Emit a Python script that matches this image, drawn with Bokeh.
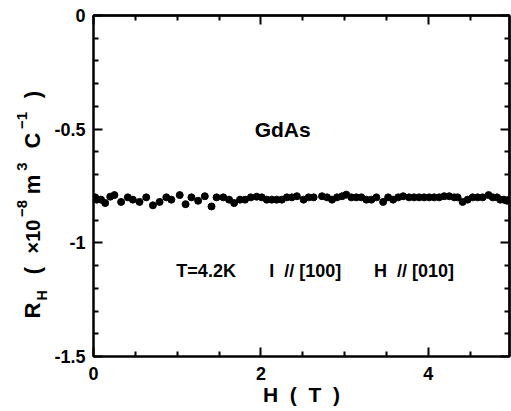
import numpy as np
from bokeh.plotting import figure
from bokeh.layouts import row
from bokeh.models import (LinearAxis, FixedTicker, CustomJSTickFormatter, Label, Range1d)
from bokeh.embed import file_html
from bokeh.resources import INLINE

# ---- data ----
field_T = [0.02, 0.04, 0.09, 0.14, 0.20, 0.25, 0.33, 0.41, 0.47, 0.55, 0.63, 0.71, 0.79,
           0.87, 0.93, 1.03, 1.10, 1.17, 1.25, 1.33, 1.41, 1.47, 1.55, 1.62, 1.68, 1.75,
           1.81, 1.88, 1.95, 2.01, 2.07, 2.13, 2.19, 2.25, 2.31, 2.37, 2.43, 2.51, 2.57,
           2.63, 2.73, 2.79, 2.85, 2.91, 2.97, 3.02, 3.08, 3.14, 3.20, 3.26, 3.32, 3.38,
           3.46, 3.52, 3.58, 3.64, 3.70, 3.77, 3.83, 3.89, 3.95, 4.01, 4.07, 4.13, 4.19,
           4.25, 4.31, 4.35, 4.41, 4.47, 4.53, 4.59, 4.65, 4.72, 4.77, 4.82, 4.86, 4.90,
           4.94, 4.97]
hall_RH = [-0.80, -0.81, -0.81, -0.825, -0.797, -0.79, -0.82, -0.80, -0.81, -0.82, -0.80,
           -0.835, -0.82, -0.80, -0.81, -0.79, -0.83, -0.80, -0.815, -0.795, -0.84, -0.80,
           -0.80, -0.81, -0.825, -0.81, -0.81, -0.80, -0.797, -0.80, -0.81, -0.81, -0.81,
           -0.81, -0.80, -0.80, -0.795, -0.81, -0.80, -0.80, -0.795, -0.80, -0.81, -0.80,
           -0.795, -0.788, -0.80, -0.80, -0.80, -0.81, -0.81, -0.80, -0.82, -0.80, -0.81,
           -0.80, -0.795, -0.80, -0.80, -0.80, -0.80, -0.80, -0.80, -0.80, -0.795, -0.795,
           -0.80, -0.80, -0.82, -0.81, -0.80, -0.80, -0.80, -0.79, -0.80, -0.80, -0.81,
           -0.81, -0.815, -0.81]
x_major = [0, 2, 4]
x_minor = [0.5, 1, 1.5, 2.5, 3, 3.5, 4.5]
y_major = [0, -0.5, -1, -1.5]
y_minor = [-0.1, -0.2, -0.3, -0.4, -0.6, -0.7, -0.8, -0.9, -1.1, -1.2, -1.3, -1.4]

FONT = "Liberation Sans"
NB = "\u00a0"
LEFT_W = 50
TOP, BOTTOM = 15, 55
H = 411

p = figure(width=511 - LEFT_W, height=H, output_backend="svg", toolbar_location=None,
           x_range=Range1d(0, 4.97), y_range=Range1d(-1.5, 0),
           x_axis_location=None, y_axis_location=None,
           min_border_left=93 - LEFT_W, min_border_right=2, min_border_top=TOP,
           min_border_bottom=BOTTOM)
p.grid.visible = False
p.outline_line_color = "black"
p.outline_line_width = 2
p.background_fill_color = "white"
p.border_fill_color = "white"

fmt = CustomJSTickFormatter(code="return String(tick);")

def style_ticks(ax, tin_major=9, tin_minor=5):
    ax.axis_line_color = "black"
    ax.axis_line_width = 2
    ax.major_tick_in = tin_major
    ax.major_tick_out = 0
    ax.minor_tick_in = tin_minor
    ax.minor_tick_out = 0
    ax.major_tick_line_width = 2
    ax.minor_tick_line_width = 2

def labelled_axis(side, ticks, minor):
    ax = LinearAxis(ticker=FixedTicker(ticks=ticks, minor_ticks=minor), formatter=fmt)
    style_ticks(ax)
    ax.major_label_text_font = FONT
    ax.major_label_text_font_style = "bold"
    ax.major_label_text_font_size = "18px"
    ax.major_label_text_color = "black"
    ax.major_label_standoff = 8
    p.add_layout(ax, side)
    return ax

def bare_axis(side, positions, length):
    # ticks only, drawn as "minor" ticks so no label texts exist
    ax = LinearAxis(ticker=FixedTicker(ticks=[], minor_ticks=positions))
    style_ticks(ax, tin_minor=length)
    p.add_layout(ax, side)
    return ax

xb = labelled_axis("below", x_major, x_minor)
xb.major_label_standoff = 10
xb.axis_label = "H" + NB * 2 + "(" + NB * 2 + "T" + NB * 2 + ")"
xb.axis_label_text_font = FONT
xb.axis_label_text_font_style = "bold"
xb.axis_label_text_font_size = "21px"
xb.axis_label_text_color = "black"
xb.axis_label_standoff = 0
labelled_axis("left", y_major, y_minor)

bare_axis("above", x_minor, 5)
bare_axis("above", x_major, 9)
bare_axis("right", y_minor, 5)
bare_axis("right", y_major, 9)

p.scatter(field_T, hall_RH, size=7, color="black")

p.add_layout(Label(x=2.26, y=-0.50, text="GdAs", text_font=FONT, text_font_style="bold",
                   text_font_size="21px", text_align="center", text_baseline="middle",
                   text_color="black"))
for xx, t in [(0.99, "T=4.2K"), (2.10, "I" + NB * 2 + "//" + NB + "[100]"),
              (3.35, "H" + NB * 2 + "//" + NB + "[010]")]:
    p.add_layout(Label(x=xx, y=-1.125, text=t, text_font=FONT, text_font_style="bold",
                       text_font_size="18px", text_align="left", text_baseline="middle",
                       text_color="black"))

# ---- y-axis title, built from rotated pieces in a narrow side panel ----
# the panel's frame is aligned with the main frame (rows align frames), so its
# ranges are chosen to read as page pixels
L = figure(width=LEFT_W, height=H, output_backend="svg", toolbar_location=None,
           x_range=Range1d(0, LEFT_W), y_range=Range1d(H - BOTTOM, TOP),
           x_axis_location=None, y_axis_location=None,
           min_border_left=0, min_border_right=0, min_border_top=TOP,
           min_border_bottom=BOTTOM)
L.grid.visible = False
L.outline_line_color = None
L.background_fill_color = "white"
L.border_fill_color = "white"

def piece(px, py, t, size):
    L.add_layout(Label(x=px, y=py, text=t, angle=np.pi / 2, text_font=FONT,
                       text_font_style="bold", text_font_size=size, text_color="black",
                       text_align="center", text_baseline="middle"))

piece(32, 310, "R", "22px")
piece(41, 295, "H", "14px")
piece(32, 270, "(", "22px")
piece(32, 236, "×10", "20px")
piece(21, 208, "−8", "15px")
piece(32, 184, "m", "22px")
piece(21, 166, "3", "15px")
piece(32, 140, "C", "22px")
piece(21, 120, "−1", "15px")
piece(32, 94, ")", "22px")

layout = row(L, p)
open("out.html", "w").write(file_html(layout, INLINE))
